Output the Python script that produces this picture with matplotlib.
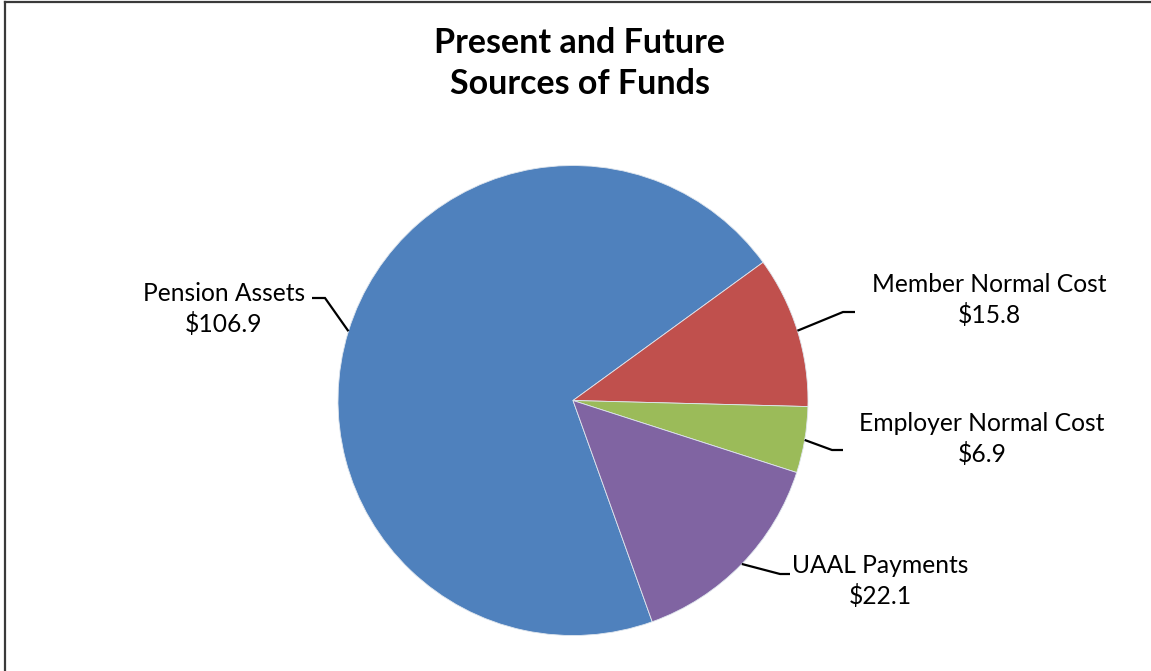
import matplotlib
matplotlib.use("Agg")
import matplotlib.pyplot as plt
import numpy as np
from matplotlib.lines import Line2D

# Funding sources (in $ billions)
categories = ["Pension Assets", "Member Normal Cost", "Employer Normal Cost", "UAAL Payments"]
values = [106.9, 15.8, 6.9, 22.1]
value_labels = ["$106.9", "$15.8", "$6.9", "$22.1"]
colors = ["#4F81BD", "#C0504D", "#9BBB59", "#8064A2"]

W, H = 1151, 671
fig = plt.figure(figsize=(W / 100, H / 100), dpi=100)
ax = fig.add_axes([0, 0, 1, 1])

cx, cy, r = 573, H - 400.5, 235
wedges, _ = ax.pie(values, colors=colors, startangle=-70.3, counterclock=False,
                   center=(cx, cy), radius=r,
                   wedgeprops=dict(linewidth=0.6, edgecolor="#dfe6ee"))
ax.set_xlim(0, W)
ax.set_ylim(0, H)
ax.set_aspect("equal")
ax.axis("off")

font = "Lato"
# label placement: (text centre x, first baseline y, elbow x, elbow y, end x) in pixels
label_layout = [
    (224, 301, 325, 298, 312),
    (989, 292, 843, 312, 855),
    (982, 431, 832, 450, 843),
    (880, 573, 780, 574, 790),
]
line_gap = 31
for w, cat, val, (tx, by, ex, ey, hx) in zip(wedges, categories, value_labels, label_layout):
    mid = np.deg2rad((w.theta1 + w.theta2) / 2)
    px, py = cx + r * np.cos(mid), cy + r * np.sin(mid)
    ax.plot([px, ex, hx], [py, H - ey, H - ey], color="black", lw=1.6,
            solid_capstyle="butt", solid_joinstyle="miter")
    ax.text(tx, H - by, cat, ha="center", va="baseline",
            fontsize=17.7, family=font, color="black")
    ax.text(tx, H - by - line_gap, val, ha="center", va="baseline",
            fontsize=17.7, family=font, color="black")

title_lines = ["Present and Future", "Sources of Funds"]
for line, base in zip(title_lines, [53, 94]):
    fig.text(580 / W, 1 - base / H, line, ha="center", va="baseline",
             fontsize=24.5, fontweight="bold", family=font)

# chart frame (left and top edges)
fig.add_artist(Line2D([5 / W, 5 / W], [0, 1 - 2 / H], transform=fig.transFigure,
                      color="#3a3a3a", lw=1.6))
fig.add_artist(Line2D([5 / W, 1], [1 - 2 / H, 1 - 2 / H], transform=fig.transFigure,
                      color="#3a3a3a", lw=1.6))

fig.savefig("out.png", dpi=100)
